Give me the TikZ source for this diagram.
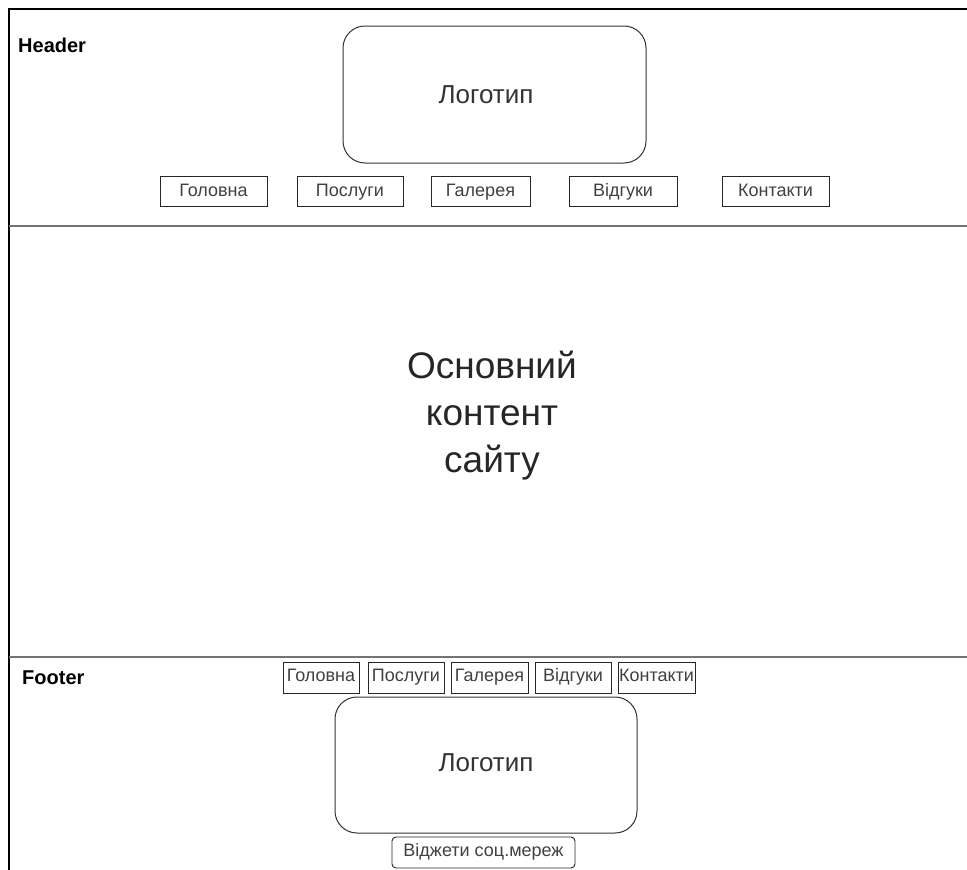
\documentclass[tikz,border=0pt]{standalone}
\usepackage{fontspec}
\setmainfont{Liberation Sans}
\begin{document}
\begin{tikzpicture}[x=1pt,y=-1pt,
  btn/.style={draw=black!85,line width=0.9pt,inner sep=0pt,text=black!75,font=\fontsize{18}{20}\selectfont,text height=0.8em,text depth=0.1em},
  hbtn/.style={btn,text height=1.15em,text depth=0pt},
  logo/.style={draw=black!80,line width=1pt,rounded corners=22pt,inner sep=0pt},
  logotext/.style={inner sep=0pt,text=black!80,font=\fontsize{26}{30}\selectfont},
  sep/.style={draw=black!55,line width=2pt},
  lbl/.style={anchor=west,inner sep=0pt,font=\bfseries\fontsize{20}{24}\selectfont}]
\useasboundingbox (0,0) rectangle (967,870);
\coordinate (tl) at (9,9);
\coordinate (tr) at (967,9);
\coordinate (bl) at (9,870);
\draw[line width=1.2pt] (bl) -- (tl) -- (tr);
\coordinate (s1l) at (9,226);
\coordinate (s1r) at (967,226);
\coordinate (s2l) at (9,657);
\coordinate (s2r) at (967,657);
\draw[sep] (s1l) -- (s1r);
\draw[sep] (s2l) -- (s2r);
% header
\node[lbl] (hlab) at (18,45) {Header};
\node[logo,minimum width=303pt,minimum height=137pt] (hlogo) at (494.5,94.5) {};
\node[logotext] (hlogot) at (486,95) {Логотип};
\node[hbtn,minimum width=107pt,minimum height=30pt] (h1) at (213.5,191) {Головна};
\node[hbtn,minimum width=106pt,minimum height=30pt] (h2) at (350,191) {Послуги};
\node[hbtn,minimum width=99pt,minimum height=30pt] (h3) at (480.5,191) {Галерея};
\node[hbtn,minimum width=108pt,minimum height=30pt] (h4) at (623,191) {Відгуки};
\node[hbtn,minimum width=107pt,minimum height=30pt] (h5) at (775.5,191) {Контакти};
% main
\node[align=center,inner sep=0pt,anchor=base,font=\fontsize{37}{47}\selectfont,text=black!85] (main) at (492,472) {Основний\\контент\\сайту};
% footer
\node[lbl] (flab) at (22,678) {Footer};
\node[btn,minimum width=76pt,minimum height=31pt] (f1) at (321,677.5) {Головна};
\node[btn,minimum width=76pt,minimum height=31pt] (f2) at (406,677.5) {Послуги};
\node[btn,minimum width=77pt,minimum height=31pt] (f3) at (489.5,677.5) {Галерея};
\node[btn,minimum width=76pt,minimum height=31pt] (f4) at (573,677.5) {Відгуки};
\node[btn,minimum width=77pt,minimum height=31pt] (f5) at (656.5,677.5) {Контакти};
\node[logo,minimum width=302pt,minimum height=136pt] (flogo) at (486,765) {};
\node[logotext] (flogot) at (486,763) {Логотип};
\node[btn,rounded corners=4pt,minimum width=183pt,minimum height=31pt] (fw) at (483.5,852.5) {Віджети соц.мереж};
\end{tikzpicture}
\end{document}
